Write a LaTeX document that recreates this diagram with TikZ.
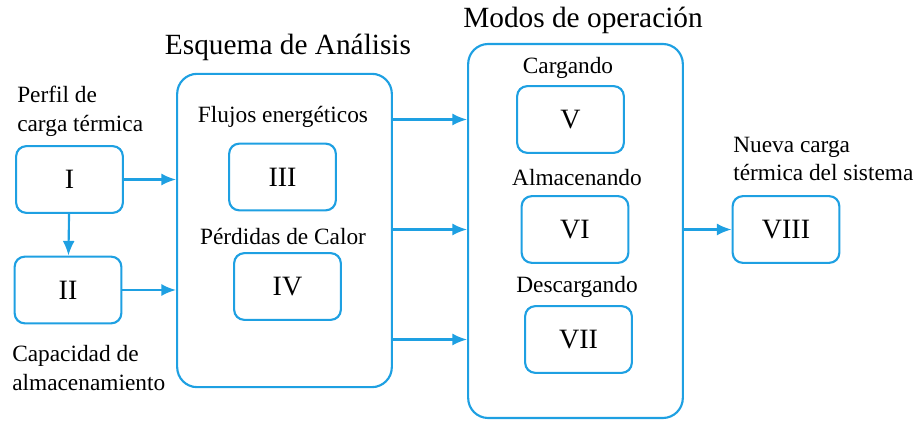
\documentclass[tikz,border=0pt]{standalone}
\usepackage{fontspec}
\setmainfont{Liberation Serif}
\usetikzlibrary{arrows.meta}
\definecolor{azul}{RGB}{30,160,226}

\begin{document}
\begin{tikzpicture}[x=0.75pt, y=-0.75pt, every node/.style={inner sep=0pt}]
  \tikzset{caja/.style={draw=azul, line width=1.6pt, rounded corners=7.5pt, minimum width=80pt, minimum height=50pt, font=\fontsize{21}{25}\selectfont}}
  \tikzset{marco/.style={draw=azul, line width=1.6pt, rounded corners=15pt}}
  \tikzset{edge/.style={-{Latex[length=11pt, width=9pt]}, draw=azul, line width=1.6pt}}
  \tikzset{etiq/.style={font=\fontsize{17.5}{21.5}\selectfont, align=left}}
  \tikzset{titulo/.style={font=\fontsize{22}{26}\selectfont}}
  \useasboundingbox (0,0) rectangle (918,423);
  % bloques grandes
  \node[marco, minimum width=161pt, minimum height=235pt] (esq) at (284.5,230.5) {};
  \node[marco, minimum width=161pt, minimum height=280.5pt] (modos) at (575.5,231) {};
  \node[titulo] (tesq) at (288,47) {Esquema de Análisis};
  \node[titulo] (tmodos) at (583,20) {Modos de operación};
  % cajas
  \node[caja] (I) at (69.5,179.5) {I};
  \node[caja] (II) at (68,290) {II};
  \node[caja] (III) at (282.5,177) {III};
  \node[caja] (IV) at (287.5,286.5) {IV};
  \node[caja] (V) at (570.5,119.5) {V};
  \node[caja] (VI) at (575,229.5) {VI};
  \node[caja] (VII) at (578.5,339.5) {VII};
  \node[caja] (VIII) at (786,229.5) {VIII};
  % etiquetas
  \node[etiq, anchor=west] (lperfil) at (17,111.5) {Perfil de\\carga térmica};
  \node[etiq, anchor=west] (lcap) at (12,368) {Capacidad de\\almacenamiento};
  \node[etiq, anchor=west] (lnueva) at (733,159) {Nueva carga\\térmica del sistema};
  \node[etiq] (lflujos) at (283,117) {Flujos energéticos};
  \node[etiq] (lperd) at (283,237) {Pérdidas de Calor};
  \node[etiq] (lcarg) at (568,68) {Cargando};
  \node[etiq] (lalm) at (577,178) {Almacenando};
  \node[etiq] (ldesc) at (577,287) {Descargando};
  % conexiones
  \draw[edge] (I) -- (II);
  \draw[edge] (I) -- (I -| esq.west);
  \draw[edge] (II) -- (II -| esq.west);
  \foreach \n in {V,VI,VII}
    \draw[edge] (esq.east |- \n) -- (modos.west |- \n);
  \draw[edge] (modos.east |- VIII) -- (VIII);
\end{tikzpicture}
\end{document}
